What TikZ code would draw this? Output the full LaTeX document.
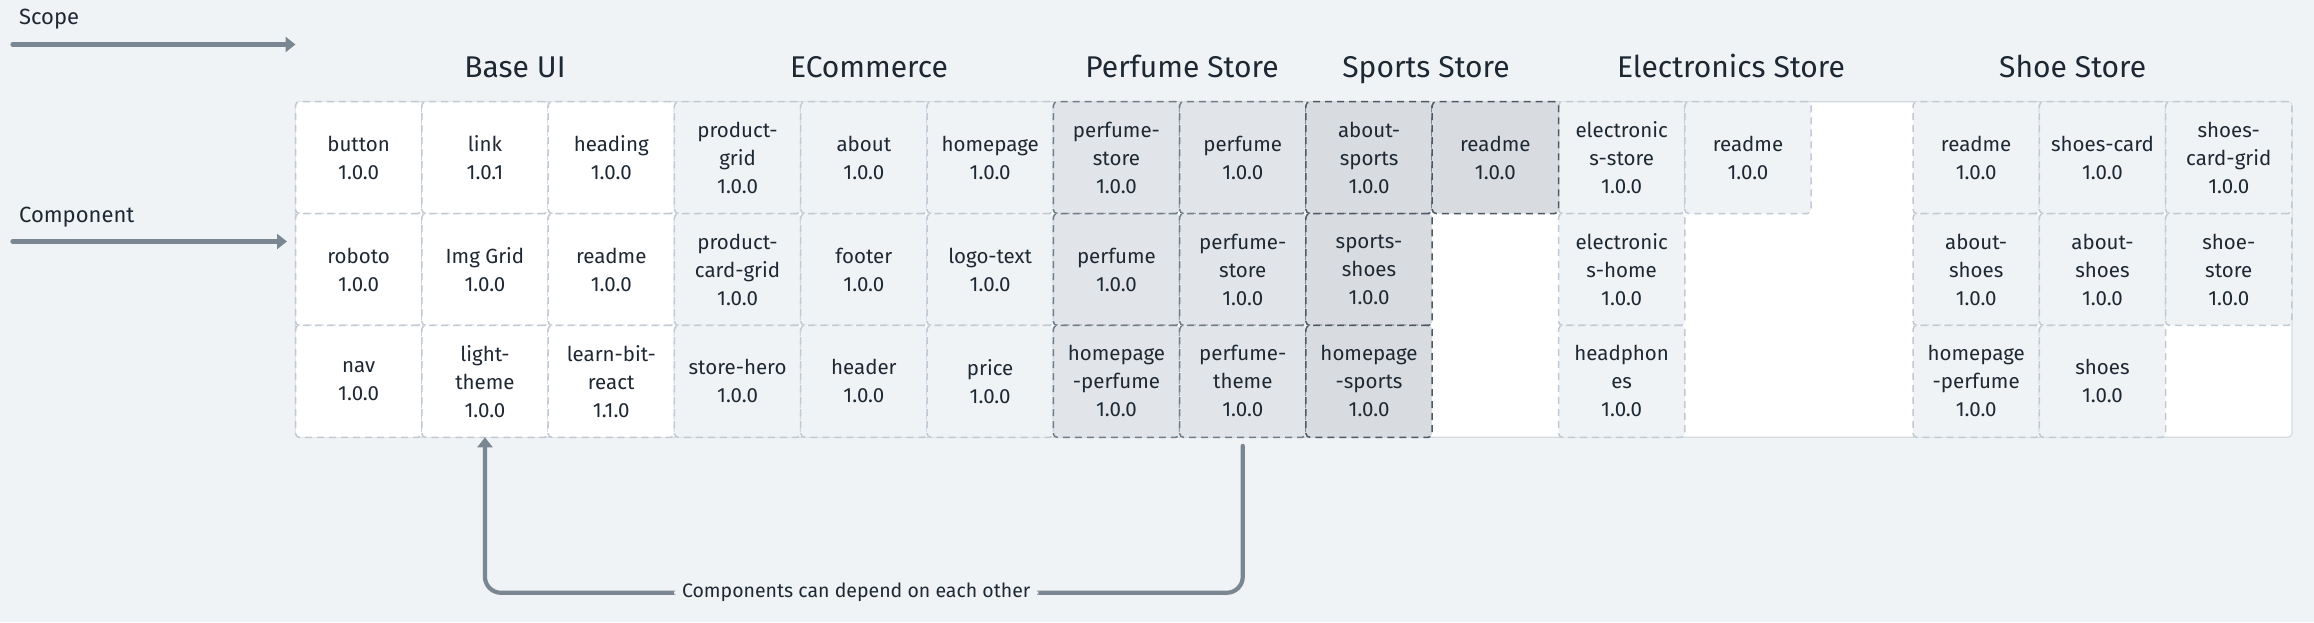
\documentclass[tikz,border=0pt]{standalone}
\usepackage{fontspec}
\setmainfont{Fira Sans}
\usetikzlibrary{arrows.meta}
\definecolor{bg}{RGB}{239,243,246}
\definecolor{lightfill}{RGB}{240,243,246}
\definecolor{lightline}{RGB}{193,202,211}
\definecolor{perffill}{RGB}{225,229,233}
\definecolor{perfline}{RGB}{112,124,136}
\definecolor{sportfill}{RGB}{216,220,224}
\definecolor{sportline}{RGB}{78,89,102}
\definecolor{txt}{RGB}{30,40,51}
\definecolor{arr}{RGB}{122,134,146}
\definecolor{boxline}{RGB}{212,218,224}
\begin{document}
\begin{tikzpicture}[x=1pt,y=-1pt,
  cellbase/.style={rectangle, minimum width=126.3pt, minimum height=111.9pt, inner sep=0pt, outer sep=0pt, align=center, rounded corners=4pt, line width=1.5pt, dash pattern=on 7pt off 5pt, font=\fontsize{20.5}{28}\selectfont, text=txt},
  whitecell/.style={cellbase, draw=lightline, fill=white},
  lightcell/.style={cellbase, draw=lightline, fill=lightfill},
  perfcell/.style={cellbase, draw=perfline, fill=perffill},
  sportcell/.style={cellbase, draw=sportline, fill=sportfill},
  container/.style={rectangle, draw=boxline, fill=white, line width=1.2pt, rounded corners=4pt, minimum width=1996.5pt, minimum height=335.6pt, inner sep=0pt, outer sep=0pt},
  title/.style={anchor=base, font=\fontsize{30}{36}\selectfont, text=txt},
  sidelabel/.style={anchor=base west, font=\fontsize{22}{26}\selectfont, text=txt},
  conn/.style={draw=arr, line width=4.2pt, line cap=round, -{Triangle[length=10pt,width=15pt]}},
  connlabel/.style={fill=bg, inner xsep=8pt, inner ysep=2pt, font=\fontsize{19.5}{22}\selectfont, text=txt}
]
\useasboundingbox (0,0) rectangle (2314,622);
\fill[bg] (0,0) rectangle (2314,622);

% side labels and arrows
\node[sidelabel] (scopelbl) at (15.6,24) {Scope};
\node[sidelabel] (complbl) at (15.6,222.7) {Component};
\coordinate (scopeA) at (12.5,44.5);
\coordinate (scopeB) at (295.5,44.5);
\coordinate (compA) at (12.5,241.5);
\coordinate (compB) at (287,241.5);
\draw[conn] (scopeA) -- (scopeB);
\draw[conn] (compA) -- (compB);

% titles
\node[title] (tbase) at (515,77.5) {Base UI};
\node[title] (tecom) at (869,77.5) {ECommerce};
\node[title] (tperf) at (1182,77.5) {Perfume Store};
\node[title] (tsport) at (1426,77.5) {Sports Store};
\node[title] (telec) at (1731,77.5) {Electronics Store};
\node[title] (tshoe) at (2072.7,77.5) {Shoe Store};

% container
\node[container] (grid) at (1293.75,269.5) {};

% Base UI
\node[whitecell] (b00) at (358.65,157.6) {button\\1.0.0};
\node[whitecell] (b01) at (484.95,157.6) {link\\1.0.1};
\node[whitecell] (b02) at (611.25,157.6) {heading\\1.0.0};
\node[whitecell] (b10) at (358.65,269.5) {roboto\\1.0.0};
\node[whitecell] (b11) at (484.95,269.5) {Img Grid\\1.0.0};
\node[whitecell] (b12) at (611.25,269.5) {readme\\1.0.0};
\node[whitecell] (b20) at (358.65,381.4) {nav\\1.0.0};
\node[whitecell] (b21) at (484.95,381.4) {light-\\theme\\1.0.0};
\node[whitecell] (b22) at (611.25,381.4) {learn-bit-\\react\\1.1.0};

% ECommerce
\node[lightcell] (e00) at (737.55,157.6) {product-\\grid\\1.0.0};
\node[lightcell] (e01) at (863.85,157.6) {about\\1.0.0};
\node[lightcell] (e02) at (990.15,157.6) {homepage\\1.0.0};
\node[lightcell] (e10) at (737.55,269.5) {product-\\card-grid\\1.0.0};
\node[lightcell] (e11) at (863.85,269.5) {footer\\1.0.0};
\node[lightcell] (e12) at (990.15,269.5) {logo-text\\1.0.0};
\node[lightcell] (e20) at (737.55,381.4) {store-hero\\1.0.0};
\node[lightcell] (e21) at (863.85,381.4) {header\\1.0.0};
\node[lightcell] (e22) at (990.15,381.4) {price\\1.0.0};

% Electronics
\node[lightcell] (l00) at (1621.65,157.6) {electronic\\s-store\\1.0.0};
\node[lightcell] (l01) at (1747.95,157.6) {readme\\1.0.0};
\node[lightcell] (l10) at (1621.65,269.5) {electronic\\s-home\\1.0.0};
\node[lightcell] (l20) at (1621.65,381.4) {headphon\\es\\1.0.0};

% Shoe Store
\node[lightcell] (s00) at (1976.15,157.6) {readme\\1.0.0};
\node[lightcell] (s01) at (2102.45,157.6) {shoes-card\\1.0.0};
\node[lightcell] (s02) at (2228.75,157.6) {shoes-\\card-grid\\1.0.0};
\node[lightcell] (s10) at (1976.15,269.5) {about-\\shoes\\1.0.0};
\node[lightcell] (s11) at (2102.45,269.5) {about-\\shoes\\1.0.0};
\node[lightcell] (s12) at (2228.75,269.5) {shoe-\\store\\1.0.0};
\node[lightcell] (s20) at (1976.15,381.4) {homepage\\-perfume\\1.0.0};
\node[lightcell] (s21) at (2102.45,381.4) {shoes\\1.0.0};

% Perfume Store
\node[perfcell] (p00) at (1116.45,157.6) {perfume-\\store\\1.0.0};
\node[perfcell] (p01) at (1242.75,157.6) {perfume\\1.0.0};
\node[perfcell] (p10) at (1116.45,269.5) {perfume\\1.0.0};
\node[perfcell] (p11) at (1242.75,269.5) {perfume-\\store\\1.0.0};
\node[perfcell] (p20) at (1116.45,381.4) {homepage\\-perfume\\1.0.0};
\node[perfcell] (p21) at (1242.75,381.4) {perfume-\\theme\\1.0.0};

% Sports Store
\node[sportcell] (o00) at (1369.05,157.6) {about-\\sports\\1.0.0};
\node[sportcell] (o01) at (1495.35,157.6) {readme\\1.0.0};
\node[sportcell] (o10) at (1369.05,269.5) {sports-\\shoes\\1.0.0};
\node[sportcell] (o20) at (1369.05,381.4) {homepage\\-sports\\1.0.0};

% dependency connector
\draw[conn, rounded corners=16pt] ([yshift=-8.5pt]p21.south) |- node[connlabel, pos=0.755] {Components can depend on each other} ([yshift=-155.4pt]b21.south) -- (b21.south);
\end{tikzpicture}
\end{document}
